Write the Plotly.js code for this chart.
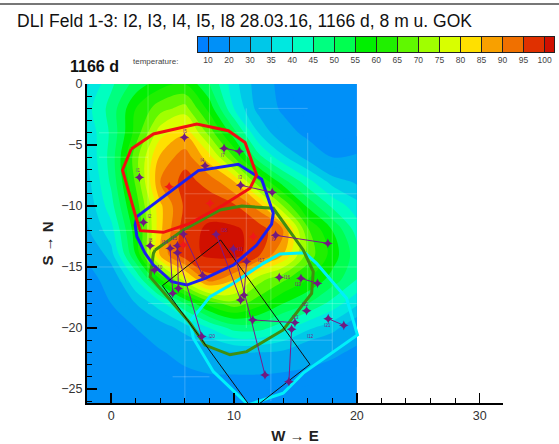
<!DOCTYPE html>
<html><head><meta charset="utf-8">
<script src="https://cdn.plot.ly/plotly-3.0.1.min.js"></script>
<style>html,body{margin:0;padding:0;background:#fff}</style></head>
<body><div id="chart" style="width:559px;height:444px"></div>
<script>
const title = 'DLI Feld 1-3: I2, I3, I4, I5, I8 28.03.16, 1166 d, 8 m u. GOK';
const gridX = [-2,0,2,4,6,8,10,12,14,16,18,20];
const gridY = [0,-2,-4,-6,-8,-10,-12,-14,-16,-18,-20,-22,-24,-26.2];
const temperature = [
 [34,44,52,58,60,50,37,27,16,12,11,12],
 [38,47,60,68,72,58,40,28,18,13,12,13],
 [36,46,62,78,84,68,52,35,25,17,13,14],
 [35,47,68,86,93,82,65,47,36,28,20,21],
 [33,46,66,90,97,93,85,66,52,42,33,29],
 [31,43,62,84,96,98,96,88,70,54,44,37],
 [29,38,58,84,98,101,101,98,90,66,55,43],
 [22,33,55,86,98,101,102,96,85,68,58,47],
 [15,25,40,60,78,93,86,72,66,60,53,45],
 [12,20,30,38,50,62,68,62,55,50,43,36],
 [11,13,20,27,32,40,47,47,42,36,32,25],
 [10,11,13,19,24,27,30,30,29,25,22,18],
 [10,11,12,14,17,19,19,19,18,17,15,13],
 [11,11,11,11,11,11,11,11,11,11,11,11]
];
const levelLabels = ['10','20','30','35','40','45','50','55','60','65','70','75','80','85','90','95','100'];
const bandColors = ['#0080ff','#0090f8','#00a8f0','#00c8e8','#00e8e0','#00ffc0','#00ff80','#00ff50','#00f000','#20f000','#60f800','#a0ff00','#d8ff00','#ffe000','#f8a000','#f07000','#e03000','#d01000'];
const bandsPerLevel = [1,2,2,1,1,1,1,1,1,1,1,1,1,1,1,1,1,1];

const redX=[1.63,3.44,6.97,9.54,10.9,11.84,11.3,9.13,6.42,4.25,2.36,2.0,0.92,1.63];
const redY=[-5.33,-4.1,-3.28,-3.83,-4.8,-7.46,-8.55,-9.92,-11.42,-12.16,-12.02,-10.87,-7.05,-5.33];
const blueX=[2.09,7.1,10.35,12.25,13.2,13.06,11.84,9.95,7.64,6.15,4.93,3.44,2.76,2.09,1.95,2.09];
const blueY=[-10.87,-7.1,-6.58,-7.8,-10.6,-11.48,-13.2,-14.84,-15.93,-16.48,-16.2,-14.84,-13.88,-12.5,-11.56,-10.87];
const greenX=[3.58,5.88,8.86,10.63,13.2,15.63,16.45,16.32,14.0,11.03,9.67,7.64,6.42,3.17,3.44,3.58];
const greenY=[-13.6,-11.97,-10.33,-10,-10.19,-13.6,-15.38,-17.16,-20.16,-21.94,-22.2,-21.4,-19.6,-15.8,-13.88,-13.6];
const cyanX=[6.42,8.05,9.95,12.38,13.74,15.77,16.72,19.16,20.05,17.8,15.63,14.0,11.16,8.32,6.69,6.42];
const cyanY=[-19.48,-17.43,-16.34,-14.7,-13.93,-13.83,-14.7,-17.57,-20.57,-22.2,-23.7,-25.35,-26.3,-23.58,-20.84,-19.48];
const rectX=[8.91,16.18,11.49,4.17,8.91];
const rectY=[-12.79,-22.98,-26.66,-16.53,-12.79];

const meshX=[3,3,null,6,6,null,8,8,null,11,11,null,13,13,null,16,16,null,18,18,null,-1,3,null,12,16,null,-1,8,null,6,20,null,6,20,null,-2,20,null,3,20,null,6,18,null,-1,11,null,5,8];
const meshY=[0,-16,null,0,-26,null,0,-6,null,-2,-20,null,-6,-26,null,-4,-18,null,-9,-22,null,-6,-6,null,-2,-2,null,-12,-12,null,-11,-11,null,-9,-9,null,-15,-15,null,-18,-18,null,-21,-21,null,-4,-4,null,-24,-24];

const probeX=[9.19,10.43,null,10.54,13.11,null,13.39,17.64,null,5.88,7.45,null,8.54,10.54,null,4.8,5.01,null,5.39,5.47,null,5.39,7.37,null,9.95,12.52,null,11.03,10.81,null,11.52,14.96,null,14.69,14.47,null,15.45,16.8,null,17.67,18.94,null,5.96,null,2.3,null,7.64,null,2.63,null,3.17,null,3.52,null,13.68,null,15.91];
const probeY=[-5.27,-5.52,null,-8.3,-8.88,null,-12.4,-13.06,null,-12.3,-15.7,null,-12.32,-17.7,null,-13.47,-17.16,null,-13.25,-16.75,null,-13.83,-20.7,null,-13.52,-23.85,null,-14.56,-17.3,null,-19.34,-19.56,null,-20.1,-24.4,null,-15.93,-16.34,null,-19.24,-19.78,null,-4.37,null,-7.65,null,-6.7,null,-11.34,null,-13.25,null,-15.25,null,-15.85,null,-18.58];
const hotX=[4.72,8.05,11.57,5.88];
const hotY=[-8.42,-9.78,-12.52,-13.2];
const tagNames=['I7','I3','I9','I17','I18','I14','I15','I16','I19','I22','I13','I12','I5','I1','I4','I2','I8','I10','I21','I20','I11'];
const tagX=[9.1,10.5,13.2,12.2,9.2,4.4,5.1,14.3,15.2,15.8,15.0,16.2,6.0,2.2,7.4,3.1,3.2,3.9,17.6,8.2,10.5];
const tagY=[-5.9,-7.7,-12.8,-14.5,-12.0,-13.0,-12.7,-15.9,-16.5,-18.1,-19.2,-20.7,-3.9,-7.1,-6.3,-10.9,-12.9,-15.1,-19.8,-20.7,-13.6];

// expand the label bands to equal 5-wide contour bands from 5 to 105
const expanded=[];
bandColors.forEach((c,i)=>{for(let k=0;k<bandsPerLevel[i];k++)expanded.push(c);});
const cscale=[];
expanded.forEach((c,i)=>{cscale.push([i/expanded.length,c]);cscale.push([(i+1)/expanded.length,c]);});

const outline=(x,y,c,w)=>({type:'scatter',mode:'lines',x,y,cliponaxis:false,hoverinfo:'skip',showlegend:false,line:{color:c,width:w}});
const edges=[-0.5].concat(levelLabels.map((_,i)=>i));edges.push(16.447);
const cellIdx=bandColors.map((_,i)=>i);
const px=X=>(X-87)/467, py=Y=>(403-Y)/366;

const data=[
 {type:'contour',x:gridX,y:gridY,z:temperature,zmin:5,zmax:105,zauto:false,autocontour:false,colorscale:cscale,showscale:false,
  contours:{coloring:'fill',start:10,end:100,size:5,showlines:false},line:{width:0,smoothing:1},hoverinfo:'skip'},
 outline(meshX,meshY,'rgba(255,255,255,0.22)',1),
 outline(cyanX,cyanY,'#00f0fa',3),
 outline(greenX,greenY,'#3f8f10',3),
 outline(blueX,blueY,'#1a20f0',3),
 outline(redX,redY,'#f01010',3),
 outline(rectX,rectY,'#111111',1),
 {type:'scatter',mode:'lines+markers',x:probeX,y:probeY,cliponaxis:false,hoverinfo:'skip',showlegend:false,
  line:{color:'#7a1a8c',width:1},marker:{symbol:'star-diamond',size:7,color:'#701a80'}},
 {type:'scatter',mode:'markers',x:hotX,y:hotY,hoverinfo:'skip',showlegend:false,marker:{symbol:'star-diamond',size:7,color:'#f01818'}},
 {type:'scatter',mode:'text',x:tagX,y:tagY,text:tagNames,textfont:{size:4.5,color:'#7a1a8c'},hoverinfo:'skip',showlegend:false},
 {type:'heatmap',x:edges,y:[0,1],z:[cellIdx],xaxis:'x2',yaxis:'y2',colorscale:bandColors.flatMap((c,i)=>[[i/bandColors.length,c],[(i+1)/bandColors.length,c]]),zmin:0,zmax:bandColors.length-1+1e-6,showscale:false,hoverinfo:'skip'}
];
const W=559,H=444;
const layout={
 width:W,height:H,autosize:false,paper_bgcolor:'#fff',plot_bgcolor:'#fff',showlegend:false,
 margin:{l:87,r:5,t:37,b:41},
 font:{family:'"Liberation Sans",Arial,sans-serif',color:'#333'},
 title:{text:title,x:17/W,xanchor:'left',y:1-21/H,yanchor:'middle',font:{size:17.5,color:'#111'}},
 xaxis:{range:[-1.97,31.9],domain:[0,416/467],dtick:10,tick0:0,ticks:'inside',ticklen:10,tickwidth:1.5,tickcolor:'#000',showline:true,linecolor:'#000',linewidth:2,showgrid:false,zeroline:false,
  minor:{dtick:2,ticks:'inside',ticklen:5,tickwidth:1,tickcolor:'#000',showgrid:false},tickfont:{size:12.5,color:'#333'},
  title:{text:'<b>W → E</b>\u00a0\u00a0\u00a0',font:{size:15,color:'#222'},standoff:9}},
 yaxis:{range:[-26.15,0],domain:[0,319/366],dtick:5,tick0:0,ticks:'inside',ticklen:10,tickwidth:1.5,tickcolor:'#000',showline:true,linecolor:'#000',linewidth:2,showgrid:false,zeroline:false,
  minor:{dtick:1,ticks:'inside',ticklen:5,tickwidth:1,tickcolor:'#000',showgrid:false},tickfont:{size:12.5,color:'#333'},
  title:{text:'<b>S → N</b>',font:{size:15,color:'#222'},standoff:4}},
 xaxis2:{anchor:'y2',domain:[px(197.5),1],range:[-0.5,16.447],tickmode:'array',tickvals:levelLabels.map((_,i)=>i),ticktext:levelLabels,ticks:'inside',ticklen:15,tickwidth:1,tickcolor:'#222',showline:true,mirror:true,linecolor:'#222',linewidth:1,showgrid:false,zeroline:false,tickfont:{size:8.5,color:'#444'}},
 yaxis2:{anchor:'x2',domain:[py(52),1],range:[0,1],showticklabels:false,ticks:'',showline:true,mirror:true,linecolor:'#222',linewidth:1,showgrid:false,zeroline:false},
 annotations:[
  {xref:'paper',yref:'paper',x:px(71),y:py(66),xanchor:'left',yanchor:'middle',showarrow:false,text:'<b>1166 d</b>',font:{size:16,color:'#111'},xshift:-3},
  {xref:'paper',yref:'paper',x:px(134),y:py(62),xanchor:'left',yanchor:'middle',showarrow:false,text:'temperature:',font:{size:8,color:'#444'},xshift:-3}
 ],
 shapes:[{type:'rect',xref:'paper',yref:'paper',x0:px(0),x1:px(559),y0:py(5),y1:py(3),fillcolor:'#777',line:{width:0}}]
};
Plotly.newPlot('chart',data,layout,{staticPlot:true,displayModeBar:false});
</script></body></html>
